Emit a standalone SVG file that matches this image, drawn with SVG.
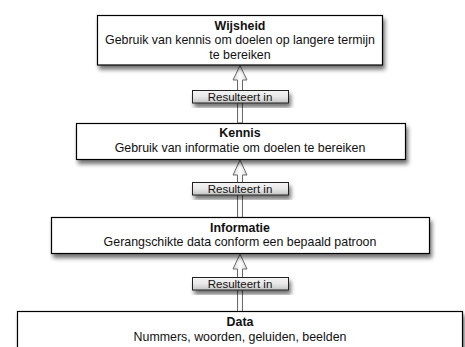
<svg xmlns="http://www.w3.org/2000/svg" width="465" height="347" viewBox="0 0 465 347">
<defs>
<filter id="sh" x="-10%" y="-20%" width="125%" height="160%">
<feDropShadow dx="2" dy="4" stdDeviation="2.2" flood-color="#000" flood-opacity="0.55"/>
</filter>
<linearGradient id="lg" x1="0" y1="0" x2="0" y2="1">
<stop offset="0" stop-color="#f4f4f4"/>
<stop offset="0.5" stop-color="#e8e8e8"/>
<stop offset="1" stop-color="#c4c4c4"/>
</linearGradient>
<linearGradient id="ag" x1="0" y1="0" x2="1" y2="0">
<stop offset="0" stop-color="#d8d8d8"/>
<stop offset="0.5" stop-color="#ffffff"/>
<stop offset="1" stop-color="#d8d8d8"/>
</linearGradient>
</defs>
<style>
.box{fill:#fff;stroke:#000;stroke-width:1.2;filter:url(#sh)}
.lbl{fill:url(#lg);stroke:#222;stroke-width:1;filter:url(#sh)}
.arr{fill:url(#ag);stroke:#6a6a6a;stroke-width:1}
text{font-family:"Liberation Sans",Arial,Helvetica,sans-serif;font-size:12.4px;fill:#111;text-anchor:middle}
.t{font-weight:bold}
.l{font-size:11.5px}
</style>
<rect width="465" height="347" fill="#fff"/>
<g id="connectors">
<path class="arr" d="M240,65.5 L247,80 L242.5,80 L242.5,123 L237.5,123 L237.5,80 L233,80 Z"/>
<path class="arr" d="M240,160 L247,175 L242.5,175 L242.5,217.5 L237.5,217.5 L237.5,175 L233,175 Z"/>
<path class="arr" d="M240,254 L247,269 L242.5,269 L242.5,311.5 L237.5,311.5 L237.5,269 L233,269 Z"/>
<g id="label1"><rect class="lbl" x="192.5" y="90.5" width="96" height="12.5"/><text class="l" x="240" y="100.8">Resulteert in</text></g>
<g id="label2"><rect class="lbl" x="192.5" y="182.5" width="96" height="12.5"/><text class="l" x="240" y="192.8">Resulteert in</text></g>
<g id="label3"><rect class="lbl" x="192.5" y="277.5" width="96" height="12.5"/><text class="l" x="240" y="287.8">Resulteert in</text></g>
</g>
<g id="wijsheid">
<rect class="box" x="97.5" y="15.5" width="285" height="49.5"/>
<text class="t" x="240" y="30">Wijsheid</text>
<text x="240" y="44">Gebruik van kennis om doelen op langere termijn</text>
<text x="240" y="58.5">te bereiken</text>
</g>
<g id="kennis">
<rect class="box" x="76.5" y="123.5" width="329" height="36"/>
<text class="t" x="240" y="137">Kennis</text>
<text x="240" y="151.5">Gebruik van informatie om doelen te bereiken</text>
</g>
<g id="informatie">
<rect class="box" x="51.5" y="217.5" width="378" height="36"/>
<text class="t" x="240" y="231.5">Informatie</text>
<text x="240" y="246">Gerangschikte data conform een bepaald patroon</text>
</g>
<g id="data">
<rect class="box" x="17.5" y="311.5" width="445" height="60"/>
<text class="t" x="240" y="326">Data</text>
<text x="240" y="341">Nummers, woorden, geluiden, beelden</text>
</g>
</svg>
